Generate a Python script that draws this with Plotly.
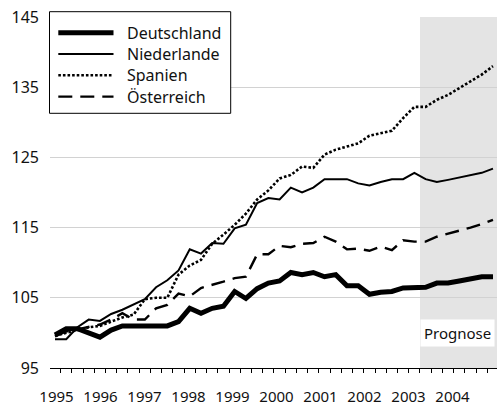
import plotly.graph_objects as go

# ---------------- data ----------------
years = [1995, 1996, 1997, 1998, 1999, 2000, 2001, 2002, 2003, 2004]
quarters = [f"{y}Q{q}" for y in years for q in range(1, 5)]
series_names = ["Deutschland", "Niederlande", "Spanien", "Österreich"]

deutschland = [99.7, 100.6, 100.6, 100.0, 99.4, 100.4, 101.0, 101.0, 101.0, 101.0,
               101.0, 101.6, 103.5, 102.8, 103.5, 103.8, 105.9, 104.9, 106.3, 107.1,
               107.4, 108.6, 108.3, 108.6, 108.0, 108.3, 106.7, 106.7, 105.5, 105.8,
               105.9, 106.4, 106.5, 106.5, 107.1, 107.1, 107.4, 107.7, 108.0, 108.0]
niederlande = [99.1, 99.1, 100.8, 101.9, 101.7, 102.7, 103.3, 104.1, 104.8, 106.5,
               107.5, 108.9, 111.9, 111.3, 112.8, 112.7, 114.9, 115.4, 118.5, 119.2,
               119.0, 120.7, 120.0, 120.7, 121.9, 121.9, 121.9, 121.3, 121.0, 121.5,
               121.9, 121.9, 122.8, 121.9, 121.5, 121.8, 122.1, 122.4, 122.8, 123.4]
spanien = [99.6, 100.0, 100.4, 100.8, 101.0, 101.6, 102.2, 102.6, 104.8, 105.0,
           105.0, 108.3, 109.6, 110.4, 112.7, 114.0, 115.4, 117.0, 119.0, 120.3,
           122.0, 122.5, 123.7, 123.5, 125.4, 126.1, 126.5, 127.0, 128.1, 128.5,
           128.8, 130.6, 132.2, 132.2, 133.2, 133.9, 134.9, 135.8, 136.8, 138.0]
oesterreich = [99.5, 100.2, 100.5, 100.9, 101.2, 101.9, 102.8, 101.9, 101.9, 103.5,
               104.0, 105.6, 105.2, 106.4, 106.8, 107.3, 107.8, 108.0, 111.2, 111.2,
               112.4, 112.2, 112.7, 112.8, 113.7, 113.0, 111.9, 112.0, 111.7, 112.3,
               111.8, 113.2, 113.0, 113.0, 113.7, 114.1, 114.5, 115.0, 115.5, 116.1]
y_ticks = [95, 105, 115, 125, 135, 145]
forecast_start = "2003Q2"
forecast_label = "Prognose"

# ---------------- styles ----------------
styles = {
    "Deutschland": dict(color="black", width=5, dash="solid"),
    "Niederlande": dict(color="black", width=2, dash="solid"),
    "Spanien": dict(color="black", width=2.6, dash="2.6px,2px"),
    "Österreich": dict(color="black", width=2.4, dash="14px,8px"),
}
values = {"Deutschland": deutschland, "Niederlande": niederlande,
          "Spanien": spanien, "Österreich": oesterreich}

W, H = 497, 407
ML, MR, MT, MB = 50, 0, 17, 39
PW, PH = W - ML - MR, H - MT - MB
FONT = "Noto Sans"

xpos = list(range(len(quarters)))

fig = go.Figure()
for name in series_names:
    fig.add_trace(go.Scatter(
        x=xpos, y=values[name], mode="lines", name=name,
        line=dict(color=styles[name]["color"], width=styles[name]["width"],
                  dash=styles[name]["dash"]),
        showlegend=False, hoverinfo="skip"))

x_lo, x_hi = -0.445, -0.445 + PW / 11.23

# forecast shading
fs = quarters.index(forecast_start) - 0.5
fig.add_shape(type="rect", xref="x", yref="y", x0=fs, x1=x_hi, y0=y_ticks[0], y1=y_ticks[-1],
              fillcolor="#e4e4e4", line=dict(width=0), layer="below")

def pxx(px):
    return (px - ML) / PW

def pxy(py):
    return (H - MB - py) / PH

# custom legend
fig.add_shape(type="rect", xref="paper", yref="paper",
              x0=pxx(49.5), x1=pxx(230.7), y0=pxy(113.3), y1=pxy(11.7),
              fillcolor="white", line=dict(color="black", width=1), layer="above")
for k, name in enumerate(series_names):
    yy = pxy(32.7 + 21.3 * k)
    st = styles[name]
    fig.add_shape(type="line", xref="paper", yref="paper",
                  x0=pxx(58.3), x1=pxx(113.5), y0=yy, y1=yy,
                  line=dict(color=st["color"], width=st["width"], dash=st["dash"]),
                  layer="above")
    fig.add_annotation(xref="paper", yref="paper", x=pxx(125), y=yy,
                       text=name, showarrow=False, xanchor="left", yanchor="middle",
                       font=dict(family=FONT, size=16, color="#111"))

# Prognose label
fig.add_annotation(xref="paper", yref="y", x=pxx(494.5), y=100.0, text=forecast_label,
                   showarrow=False, xanchor="right", yanchor="middle",
                   bgcolor="white", borderpad=3,
                   font=dict(family=FONT, size=15, color="#111"))

label_pos = [0.134 + 3.918 * k for k in range(len(years))]

fig.update_layout(
    width=W, height=H, autosize=False,
    margin=dict(l=ML, r=MR, t=MT, b=MB, pad=0, autoexpand=False),
    paper_bgcolor="white", plot_bgcolor="white",
    font=dict(family=FONT, color="#111"),
    showlegend=False,
    xaxis=dict(range=[x_lo, x_hi], tickmode="array", tickvals=label_pos,
               ticktext=[str(y) for y in years], ticks="outside", ticklen=0,
               showgrid=False, zeroline=False, showline=True, linecolor="black",
               linewidth=1, tickfont=dict(family=FONT, size=15, color="#111"),
               ticklabelstandoff=15, automargin=False,
               minor=dict(tickmode="array", tickvals=[i - 0.5 for i in range(len(quarters) + 1)],
                          ticks="outside", ticklen=4, tickcolor="black", tickwidth=1,
                          showgrid=False)),
    yaxis=dict(range=[y_ticks[0], y_ticks[-1]], tickmode="array", tickvals=y_ticks,
               ticks="", showgrid=True, gridcolor="#d2d2d2", gridwidth=1,
               zeroline=False, showline=False, automargin=False,
               tickfont=dict(family=FONT, size=16, color="#111"),
               ticklabelstandoff=10),
)

fig.write_html("out.html", config={"displayModeBar": False},
               post_script="document.body.style.margin='0';document.body.style.padding='0';"
                           "document.body.style.overflow='hidden';")
